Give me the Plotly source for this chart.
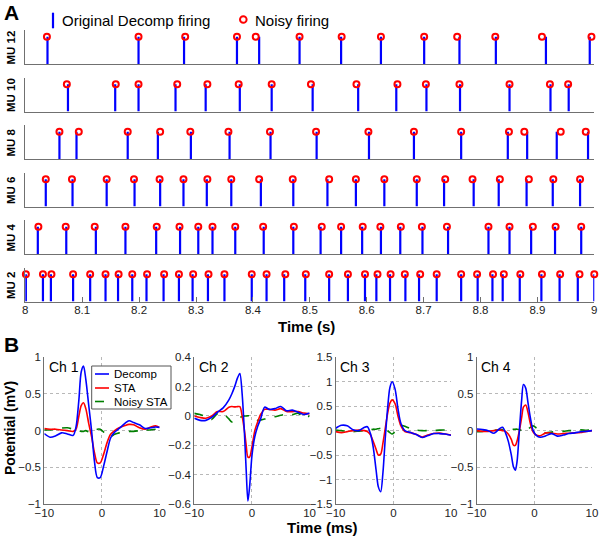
import plotly.graph_objects as go

W, H = 600, 536
FONT = "Liberation Sans, Arial, sans-serif"

# ---- Panel A: firing times (s) ----
mu_labels = ["MU 12", "MU 10", "MU 8", "MU 6", "MU 4", "MU 2"]

mu12_decomp = [8.039, 8.199, 8.279, 8.372, 8.411, 8.482, 8.555, 8.625, 8.701, 8.763, 8.827, 8.915, 8.992]
mu12_noisy = [8.038, 8.199, 8.281, 8.372, 8.405, 8.482, 8.556, 8.625, 8.701, 8.759, 8.826, 8.908, 8.995]

mu10_decomp = [8.075, 8.158, 8.199, 8.264, 8.317, 8.377, 8.433, 8.505, 8.585, 8.652, 8.705, 8.764, 8.851, 8.923, 8.955]
mu10_noisy = [8.073, 8.159, 8.199, 8.267, 8.320, 8.375, 8.433, 8.502, 8.582, 8.654, 8.704, 8.763, 8.851, 8.922, 8.954]

mu8_decomp = [8.060, 8.090, 8.180, 8.233, 8.291, 8.359, 8.431, 8.512, 8.604, 8.683, 8.766, 8.848, 8.882, 8.934, 8.989]
mu8_noisy = [8.060, 8.094, 8.180, 8.237, 8.290, 8.357, 8.430, 8.511, 8.603, 8.683, 8.766, 8.850, 8.877, 8.941, 8.985]

mu6_decomp = [8.036, 8.083, 8.143, 8.192, 8.237, 8.278, 8.319, 8.362, 8.414, 8.471, 8.531, 8.581, 8.631,
              8.688, 8.736, 8.788, 8.832, 8.881, 8.927, 8.975]
mu6_noisy = [8.036, 8.082, 8.143, 8.191, 8.236, 8.278, 8.320, 8.362, 8.411, 8.470, 8.534, 8.581, 8.631,
             8.688, 8.738, 8.786, 8.834, 8.885, 8.928, 8.975]

mu4_decomp = [8.022, 8.072, 8.124, 8.176, 8.230, 8.272, 8.304, 8.329, 8.369, 8.419, 8.471, 8.519, 8.555,
              8.592, 8.625, 8.659, 8.698, 8.743, 8.814, 8.851, 8.889, 8.931, 8.977]
mu4_noisy = [8.023, 8.071, 8.122, 8.176, 8.231, 8.271, 8.304, 8.329, 8.369, 8.418, 8.472, 8.521, 8.555,
             8.593, 8.624, 8.660, 8.697, 8.741, 8.814, 8.851, 8.892, 8.932, 8.977]

mu2_decomp = [8.001, 8.031, 8.045, 8.084, 8.114, 8.141, 8.163, 8.188, 8.213, 8.243, 8.270, 8.294, 8.321,
              8.350, 8.398, 8.424, 8.455, 8.492, 8.534, 8.567, 8.597, 8.617, 8.641, 8.668, 8.692, 8.723,
              8.766, 8.795, 8.821, 8.839, 8.869, 8.907, 8.939, 8.971, 9.000]
mu2_noisy = [8.001, 8.031, 8.046, 8.084, 8.114, 8.141, 8.164, 8.188, 8.214, 8.244, 8.270, 8.295, 8.322,
             8.350, 8.398, 8.424, 8.457, 8.493, 8.534, 8.567, 8.597, 8.619, 8.642, 8.667, 8.694, 8.723,
             8.766, 8.794, 8.822, 8.841, 8.870, 8.908, 8.940, 8.974, 9.000]

decomp_times = [mu12_decomp, mu10_decomp, mu8_decomp, mu6_decomp, mu4_decomp, mu2_decomp]
noisy_times = [mu12_noisy, mu10_noisy, mu8_noisy, mu6_noisy, mu4_noisy, mu2_noisy]

time_ticks = [8, 8.1, 8.2, 8.3, 8.4, 8.5, 8.6, 8.7, 8.8, 8.9, 9]
time_ticktext = ["8", "8.1", "8.2", "8.3", "8.4", "8.5", "8.6", "8.7", "8.8", "8.9", "9"]

# ---- Panel B: MUAP templates (mV) vs time (ms) ----
ch_names = ["Ch 1", "Ch 2", "Ch 3", "Ch 4"]

t_ch1 = [-10, -9, -8, -7, -6, -5, -4.5, -4, -3.6, -3.2, -2.8, -2.3, -1.8, -1.3, -0.8, -0.3,
         0.3, 0.9, 1.5, 2.2, 3, 4, 4.7, 5.5, 6.5, 7.5, 8.5, 9.3, 10]
decomp_ch1 = [-0.04, -0.09, -0.07, -0.03, -0.045, -0.065, 0.05, 0.42, 0.8, 0.88, 0.7, 0.35, 0.0, -0.42,
              -0.64, -0.64, -0.48, -0.28, -0.10, -0.02, 0.03, 0.10, 0.135, 0.11, 0.08, 0.03, 0.04, 0.05, 0.045]
sta_ch1 = [0.03, 0.02, 0.02, 0.01, 0.0, -0.01, 0.02, 0.2, 0.34, 0.38, 0.3, 0.1, -0.08, -0.3,
           -0.44, -0.44, -0.32, -0.16, -0.05, 0.0, 0.04, 0.07, 0.085, 0.08, 0.04, 0.02, 0.05, 0.065, 0.045]
noisy_ch1 = [0.01, 0.01, 0.02, 0.035, 0.04, 0.02, 0.01, 0.0, -0.01, -0.01, 0.0, -0.02, -0.02, 0.0,
             0.02, 0.02, -0.02, -0.07, -0.08, -0.05, -0.03, -0.02, -0.01, -0.01, 0.0, 0.01, 0.01, 0.02, 0.02]

t_ch2 = [-10, -9, -8, -7, -6, -5, -4, -3.5, -3, -2.5, -2.1, -1.7, -1.3, -1.0, -0.7, -0.4,
         0, 0.5, 1, 1.5, 2.2, 3, 4, 5, 6, 7, 8, 9, 10]
decomp_ch2 = [-0.016, -0.03, -0.03, -0.01, 0.025, 0.055, 0.11, 0.15, 0.2, 0.26, 0.29, 0.15, -0.12, -0.37,
              -0.58, -0.48, -0.27, -0.14, -0.07, -0.02, 0.06, 0.045, 0.05, 0.065, 0.035, 0.04, 0.025, 0.01, 0.02]
sta_ch2 = [0.0, -0.01, -0.015, 0.0, 0.03, 0.03, 0.06, 0.065, 0.062, 0.064, 0.064, 0.0, -0.1, -0.2,
           -0.28, -0.28, -0.21, -0.1, -0.04, 0.01, 0.045, 0.045, 0.04, 0.05, 0.03, 0.03, 0.03, 0.02, 0.014]
noisy_ch2 = [0.018, 0.01, -0.005, -0.023, 0.015, 0.015, -0.02, -0.04, -0.03, -0.015, -0.01, -0.005, 0.0, 0.0,
             0.002, 0.0, -0.01, -0.025, -0.03, -0.028, -0.02, -0.01, -0.005, 0.005, 0.012, 0.01, 0.018, -0.012, 0.0]

t_ch3 = [-10, -9, -8, -7, -6, -5, -4.5, -4, -3.5, -3, -2.6, -2.2, -1.8, -1.4, -1.0, -0.6,
         -0.2, 0.3, 0.8, 1.3, 2, 3, 4, 5, 6, 7, 8, 9, 10]
decomp_ch3 = [0.05, 0.11, 0.1, 0.02, 0.0, 0.07, 0.08, -0.05, -0.33, -0.8, -1.15, -1.25, -0.85, -0.15,
              0.45, 0.88, 1.0, 0.85, 0.45, 0.15, 0.0, -0.04, -0.08, -0.14, -0.1, -0.06, -0.06, -0.07, -0.095]
sta_ch3 = [-0.02, -0.04, -0.02, 0.0, 0.01, 0.0, -0.02, -0.08, -0.22, -0.38, -0.5, -0.48, -0.25, 0.05,
           0.35, 0.56, 0.63, 0.55, 0.3, 0.1, -0.02, -0.04, -0.08, -0.13, -0.09, -0.06, -0.05, -0.07, -0.09]
noisy_ch3 = [0.014, 0.0, -0.02, -0.02, -0.01, 0.0, 0.01, 0.02, 0.03, 0.03, 0.04, 0.05, 0.06, 0.07,
             0.0, -0.04, -0.07, -0.02, 0.06, 0.11, 0.09, 0.04, 0.01, 0.0, 0.0, 0.0, 0.01, 0.01, -0.04]

t_ch4 = [-10, -9, -8, -7, -6, -5.5, -5, -4.5, -4, -3.6, -3.3, -3.0, -2.6, -2.2, -1.9, -1.5,
         -1.1, -0.7, -0.2, 0.3, 1, 2, 3, 4, 5, 6, 7, 8, 9, 10]
decomp_ch4 = [0.023, 0.015, 0.0, -0.036, 0.03, 0.045, -0.03, -0.15, -0.33, -0.5, -0.54, -0.42, 0.0, 0.42,
              0.63, 0.58, 0.38, 0.18, 0.0, -0.06, -0.09, -0.07, -0.04, -0.075, -0.06, -0.04, -0.03, -0.015,
              -0.01, 0.0]
sta_ch4 = [0.0, -0.01, -0.01, 0.0, 0.01, 0.0, -0.01, -0.05, -0.12, -0.2, -0.2, -0.14, 0.0, 0.18,
           0.32, 0.35, 0.25, 0.1, -0.02, -0.06, -0.07, -0.03, -0.035, -0.045, -0.04, -0.035, -0.03, -0.025,
           -0.01, 0.0]
noisy_ch4 = [-0.014, -0.01, 0.0, 0.005, 0.01, 0.015, 0.02, 0.02, 0.02, 0.02, 0.02, 0.02, 0.015, 0.0,
             -0.01, -0.01, 0.02, 0.045, 0.065, 0.04, 0.0, -0.03, -0.02, -0.01, -0.01, 0.0, 0.0, 0.01, 0.005, 0.01]

ch_t = [t_ch1, t_ch2, t_ch3, t_ch4]
ch_decomp = [decomp_ch1, decomp_ch2, decomp_ch3, decomp_ch4]
ch_sta = [sta_ch1, sta_ch2, sta_ch3, sta_ch4]
ch_noisy = [noisy_ch1, noisy_ch2, noisy_ch3, noisy_ch4]

ch_yrange = [[-1, 1], [-0.6, 0.4], [-1.5, 1.5], [-1, 1]]
ch_ydtick = [0.5, 0.2, 0.5, 0.5]


def px(x):
    return x / W


def py(y):
    return 1 - y / H


BLUE = "#0000ff"
RED = "#ff0000"
GREEN = "#007f00"
AXIS_GREY = "#707070"
GRID_GREY = "#b8b8b8"

fig = go.Figure()
layout = {}
annotations = []
shapes = []

# ---- Panel A rows ----
row_baselines = [64, 111.5, 159, 206.5, 254, 301.5]
row_height = 34
for i, (lab, dec, noi) in enumerate(zip(mu_labels, decomp_times, noisy_times)):
    n = i + 1
    xa = "x" if n == 1 else f"x{n}"
    ya = "y" if n == 1 else f"y{n}"
    sx, sy = [], []
    for t in dec:
        sx += [t, t, None]
        sy += [0, 1, None]
    fig.add_trace(go.Scatter(x=sx, y=sy, mode="lines", line=dict(color=BLUE, width=2.2),
                             xaxis=xa, yaxis=ya, showlegend=False, hoverinfo="skip", cliponaxis=False))
    fig.add_trace(go.Scatter(x=noi, y=[1] * len(noi), mode="markers",
                             marker=dict(symbol="circle-open", size=6, color=RED, line=dict(width=2, color=RED)),
                             xaxis=xa, yaxis=ya, showlegend=False, cliponaxis=False))
    b = row_baselines[i]
    last = i == len(mu_labels) - 1
    layout["xaxis" if n == 1 else f"xaxis{n}"] = dict(
        domain=[px(25.3), px(594.3)], anchor=ya, range=[8, 9], showgrid=False, zeroline=False,
        showline=True, linecolor=AXIS_GREY, linewidth=1,
        ticks="inside" if last else "", ticklen=5, tickcolor=AXIS_GREY,
        tickvals=time_ticks, ticktext=time_ticktext, showticklabels=last,
        ticklabeloverflow="allow", ticklabelstandoff=-2,
        tickfont=dict(family=FONT, size=11.5, color="#222"))
    layout["yaxis" if n == 1 else f"yaxis{n}"] = dict(
        domain=[py(b), py(b - row_height)], anchor=xa, range=[0, 1.25], showgrid=False, zeroline=False,
        showline=True, linecolor=AXIS_GREY, linewidth=1, showticklabels=False, ticks="")
    annotations.append(dict(text=f"<b>{lab}</b>", x=px(10.5), y=py(b - 16), xref="paper", yref="paper",
                            textangle=-90, showarrow=False, font=dict(family=FONT, size=11.5, color="black"),
                            xanchor="center", yanchor="middle"))

# ---- Panel B channels ----
ch_left = [44.3, 194.3, 335.7, 476.7]
ch_width = 115.3
for j in range(4):
    n = 7 + j
    xa, ya = f"x{n}", f"y{n}"
    for ys, col, dash, nm in [(ch_noisy[j], GREEN, "dash", "Noisy STA"),
                              (ch_sta[j], RED, "solid", "STA"),
                              (ch_decomp[j], BLUE, "solid", "Decomp")]:
        fig.add_trace(go.Scatter(x=ch_t[j], y=ys, mode="lines", name=nm,
                                 line=dict(color=col, width=1.6, dash=dash, shape="spline", smoothing=0.8),
                                 xaxis=xa, yaxis=ya, showlegend=False))
    y0, y1 = ch_yrange[j]
    layout[f"xaxis{n}"] = dict(
        domain=[px(ch_left[j]), px(ch_left[j] + ch_width)], anchor=ya, range=[-10, 10],
        tickvals=[-10, 0, 10], ticks="", showgrid=True, gridcolor=GRID_GREY, griddash="dot", gridwidth=1,
        zeroline=False, showline=True, linecolor=AXIS_GREY, linewidth=1,
        ticklabeloverflow="allow", ticklabelstandoff=-2,
        tickfont=dict(family=FONT, size=11.5, color="#222"))
    layout[f"yaxis{n}"] = dict(
        domain=[py(504), py(357.3)], anchor=xa, range=[y0, y1], dtick=ch_ydtick[j], tick0=0,
        ticks="", showgrid=True, gridcolor=GRID_GREY, griddash="dot", gridwidth=1,
        zeroline=False, showline=True, linecolor=AXIS_GREY, linewidth=1,
        tickfont=dict(family=FONT, size=11.5, color="#222"))
    annotations.append(dict(text=ch_names[j], x=px(ch_left[j] + 2.5), y=py(367), xref="paper", yref="paper",
                            showarrow=False, xanchor="left", yanchor="middle",
                            font=dict(family=FONT, size=14, color="black")))

# ---- panel letters, titles, legends ----
annotations += [
    dict(text="<b>A</b>", x=px(2), y=py(12.5), xanchor="left", yanchor="middle",
         font=dict(family=FONT, size=21, color="black")),
    dict(text="<b>B</b>", x=px(2), y=py(344), xanchor="left", yanchor="middle",
         font=dict(family=FONT, size=21, color="black")),
    dict(text="<b>Time (s)</b>", x=px(306.5), y=py(326), xanchor="center", yanchor="middle",
         font=dict(family=FONT, size=15, color="black")),
    dict(text="<b>Time (ms)</b>", x=px(322), y=py(527), xanchor="center", yanchor="middle",
         font=dict(family=FONT, size=15, color="black")),
    dict(text="<b>Potential (mV)</b>", x=px(10), y=py(428), xanchor="center", yanchor="middle",
         textangle=-90, font=dict(family=FONT, size=14, color="black")),
    dict(text="Original Decomp firing", x=px(60), y=py(20.5), xanchor="left", yanchor="middle",
         font=dict(family=FONT, size=15, color="black")),
    dict(text="Noisy firing", x=px(253), y=py(20.5), xanchor="left", yanchor="middle",
         font=dict(family=FONT, size=15, color="black")),
]
for a in annotations:
    a.setdefault("xref", "paper")
    a.setdefault("yref", "paper")
    a.setdefault("showarrow", False)

shapes += [
    dict(type="line", xref="paper", yref="paper", x0=px(53), x1=px(53), y0=py(12.7), y1=py(28.3),
         line=dict(color=BLUE, width=2.2)),
    dict(type="circle", xref="paper", yref="paper", x0=px(240), x1=px(246.6), y0=py(16.2), y1=py(22.8),
         line=dict(color=RED, width=2)),
]

# legend box inside Ch 1
shapes.append(dict(type="rect", xref="paper", yref="paper", x0=px(91.7), x1=px(171), y0=py(366), y1=py(409),
                   line=dict(color="#555", width=1), fillcolor="white", layer="above"))
for yy, col, dash, txt in [(374, BLUE, "solid", "Decomp"), (388, RED, "solid", "STA"),
                           (401.5, GREEN, "dash", "Noisy STA")]:
    shapes.append(dict(type="line", xref="paper", yref="paper", x0=px(95), x1=px(109), y0=py(yy), y1=py(yy),
                       line=dict(color=col, width=1.6, dash=dash), layer="above"))
    annotations.append(dict(text=txt, x=px(111.5), y=py(yy), xref="paper", yref="paper", showarrow=False,
                            xanchor="left", yanchor="middle", font=dict(family=FONT, size=11.5, color="black")))

fig.update_layout(
    width=W, height=H, margin=dict(l=0, r=0, t=0, b=0, autoexpand=False),
    paper_bgcolor="white", plot_bgcolor="white",
    annotations=annotations, shapes=shapes, showlegend=False,
    font=dict(family=FONT, color="black"),
    **layout,
)

# drop the browser's default 8px page margin so the figure sits at the window's corner
fig.write_html("out.html", config={"displayModeBar": False},
               post_script="document.body.style.margin='0px';")
